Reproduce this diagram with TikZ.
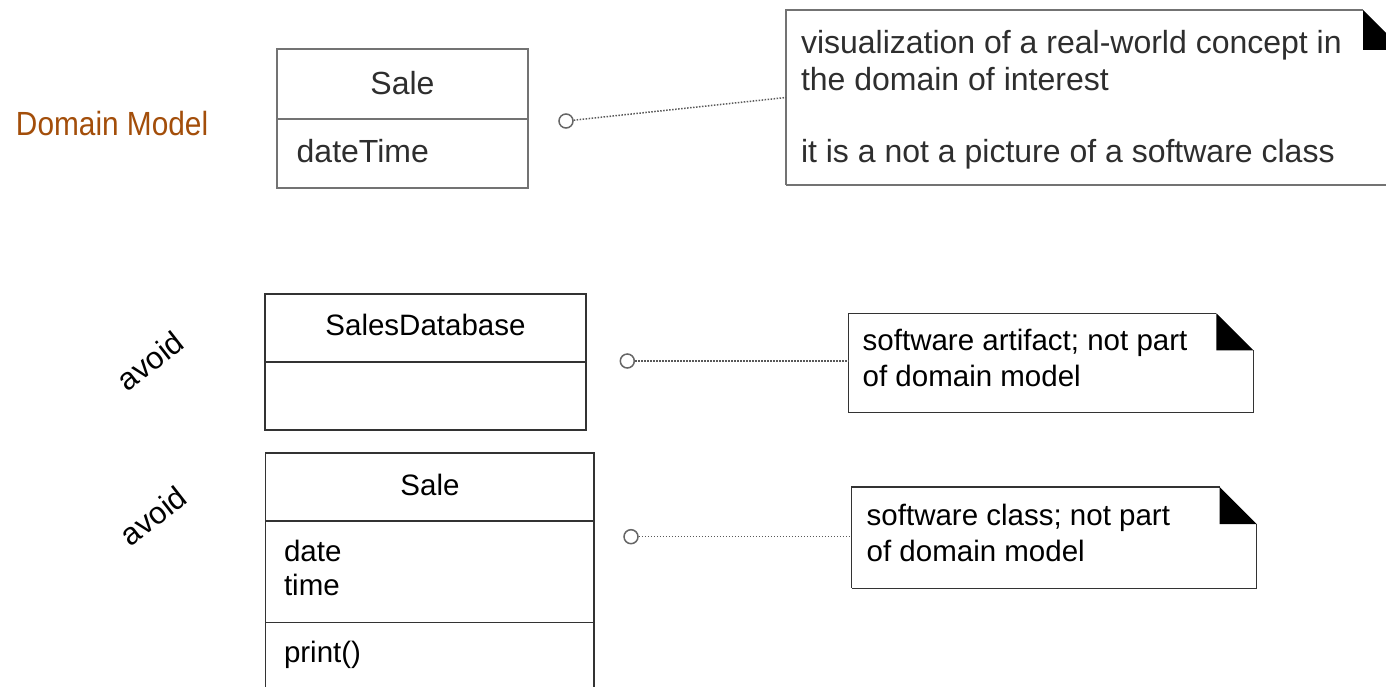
\documentclass[tikz,border=0pt]{standalone}
\usepackage{fontspec}
\setmainfont{Liberation Sans}
\newfontfamily\narrowfont[FakeStretch=0.89]{Liberation Sans}
\definecolor{dmbrown}{RGB}{163,78,10}
\newcommand\fTop{\fontsize{32}{37}\selectfont}
\newcommand\fLow{\fontsize{29.5}{35}\selectfont}
\newcommand\fAvoid{\fontsize{31}{36}\selectfont}
\newcommand\fTitle{\narrowfont\fontsize{33.5}{40}\selectfont}
\newcommand\drawnote[3]{%
  \draw[#3] (#1.south west) -- (#1.north west) -- ([xshift=-#2]#1.north east);
  \draw[#3] ([yshift=-#2]#1.north east) -- (#1.south east) -- (#1.south west);
  \fill[black] ([xshift=-#2]#1.north east) -- ([xshift=-#2,yshift=-#2]#1.north east)
     -- ([yshift=-#2]#1.north east) -- cycle;
}
\tikzset{
  box/.style={draw, rectangle, inner sep=0pt, outer sep=0pt, anchor=north west},
  topbox/.style={box, draw=black!55, line width=1.5pt},
  lowbox/.style={box, draw=black!80, line width=1.4pt},
  topline/.style={draw=black!55, line width=1.5pt},
  lowline/.style={draw=black!80, line width=1.4pt},
  txt/.style={inner sep=0pt, outer sep=0pt},
  toptxt/.style={txt, text=black!82, font=\fTop},
  lowtxt/.style={txt, text=black, font=\fLow},
  titletxt/.style={txt, text=dmbrown, font=\fTitle},
  avoidtxt/.style={txt, text=black, font=\fAvoid, rotate=38},
  pin/.style={circle, draw=black!60, line width=1.5pt, minimum size=14pt, inner sep=0pt, fill=white},
  dots/.style={draw=black!65, line width=1.5pt, dash pattern=on 1.5pt off 1.5pt},
  notebox/.style={rectangle, inner sep=0pt, outer sep=0pt, anchor=north west},
}
\begin{document}
\begin{tikzpicture}[x=1pt,y=-1pt]
\useasboundingbox (0,0) rectangle (1386,687);
\fill[white] (0,0) rectangle (1386,687);
\clip (0,0) rectangle (1386,687);

% ---------- top: domain model ----------
\node[titletxt, anchor=base west] (title) at (16,136) {Domain Model};

\node[topbox, minimum width=251pt, minimum height=139pt] (sale1) at (277,49) {};
\draw[topline] ([yshift=-70pt]sale1.north west) -- ([yshift=-70pt]sale1.north east);
\node[toptxt, anchor=base] (sale1name) at (402.5,94.5) {Sale};
\node[toptxt, anchor=base west] (sale1attr) at (296.7,163) {dateTime};

\node[notebox, minimum width=617pt, minimum height=175pt] (note1) at (786,10) {};
\drawnote{note1}{40pt}{topline}
\node[toptxt, anchor=base west] (note1a) at (801,54) {visualization of a real-world concept in};
\node[toptxt, anchor=base west] (note1b) at (801,90.5) {the domain of interest};
\node[toptxt, anchor=base west] (note1c) at (801,163) {it is a not a picture of a software class};

\node[pin] (pin1) at (566,121) {};
\draw[dots] (pin1) -- (note1.west);

% ---------- middle: SalesDatabase ----------
\node[avoidtxt] (avoid1) at (150,361) {avoid};

\node[lowbox, minimum width=321pt, minimum height=136pt] (db) at (265,294) {};
\draw[lowline] ([yshift=-68pt]db.north west) -- ([yshift=-68pt]db.north east);
\node[lowtxt, anchor=base] (dbname) at (425.5,335.5) {SalesDatabase};

\node[notebox, minimum width=405pt, minimum height=99.4pt] (note2) at (848.3,313.3) {};
\drawnote{note2}{37pt}{lowline}
\node[lowtxt, anchor=base west] (note2a) at (862.7,350) {software artifact; not part};
\node[lowtxt, anchor=base west] (note2b) at (862.7,386.5) {of domain model};

\node[pin] (pin2) at (627.3,361) {};
\draw[dots] (pin2) -- (pin2 -| note2.west);

% ---------- bottom: Sale software class ----------
\node[avoidtxt] (avoid2) at (153,516) {avoid};

\node[lowbox, minimum width=328.3pt, minimum height=260pt] (sale2) at (265.7,453) {};
\draw[lowline] ([yshift=-68pt]sale2.north west) -- ([yshift=-68pt]sale2.north east);
\draw[lowline] ([yshift=-169.7pt]sale2.north west) -- ([yshift=-169.7pt]sale2.north east);
\node[lowtxt, anchor=base] (sale2name) at (430,495.5) {Sale};
\node[lowtxt, anchor=base west] (sale2a) at (284,561) {date};
\node[lowtxt, anchor=base west] (sale2b) at (284,595) {time};
\node[lowtxt, anchor=base west] (sale2op) at (284,662.5) {print()};

\node[notebox, minimum width=405pt, minimum height=101.3pt] (note3) at (851.7,487) {};
\drawnote{note3}{37pt}{lowline}
\node[lowtxt, anchor=base west] (note3a) at (866.7,525) {software class; not part};
\node[lowtxt, anchor=base west] (note3b) at (866.7,561.5) {of domain model};

\node[pin] (pin3) at (631,536.7) {};
\draw[dots] (pin3) -- (pin3 -| note3.west);
\end{tikzpicture}
\end{document}
